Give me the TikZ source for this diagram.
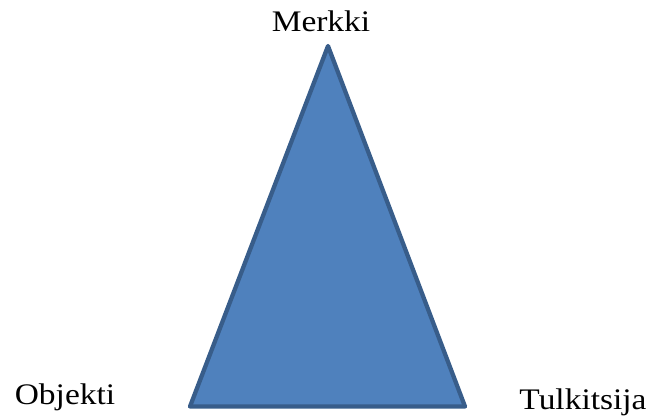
\documentclass[tikz,border=0pt]{standalone}
\usepackage{fontspec}
\setmainfont{Liberation Serif}[FakeStretch=1.12]
\definecolor{trifill}{HTML}{4F81BD}
\definecolor{triedge}{HTML}{385D8A}
\tikzset{
  lbl/.style={inner sep=0pt, anchor=base, font=\fontsize{22.4}{25}\selectfont},
  tri/.style={fill=trifill, draw=triedge, line width=3.2pt, line join=round}
}
\begin{document}
\begin{tikzpicture}[x=0.75pt,y=-0.75pt]
\useasboundingbox (0,0) rectangle (652,420);
\coordinate (top) at (328,46);
\coordinate (bl) at (190,406.5);
\coordinate (br) at (465,406.5);
\draw[tri] (top) -- (br) -- (bl) -- cycle;
\node[lbl] (merkki) at (321,32) {Merkki};
\node[lbl] (objekti) at (65,404) {Objekti};
\node[lbl] (tulkitsija) at (583,409) {Tulkitsija};
\end{tikzpicture}
\end{document}
